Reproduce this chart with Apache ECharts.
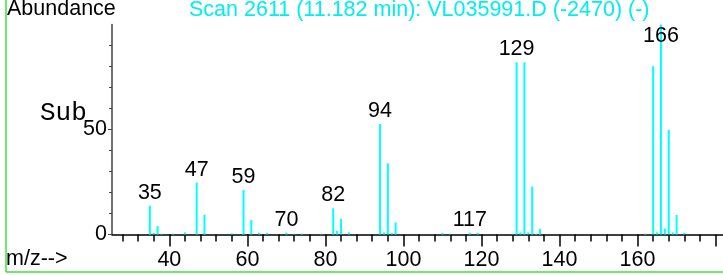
<!DOCTYPE html>
<html>
<head>
<meta charset="utf-8">
<script src="https://cdn.jsdelivr.net/npm/echarts@6/dist/echarts.min.js"></script>
<style>
  html, body { margin: 0; padding: 0; background: #fff; }
  #chart { width: 723px; height: 275px; }
</style>
</head>
<body>
<div id="chart"></div>
<script>
// m/z of each peak and its relative abundance
var mz = [35, 36, 37, 38, 41, 44, 47, 49, 56, 59, 61, 63, 65, 70, 72, 74, 79,
  82, 83, 84, 86, 94, 95, 96, 97, 98, 110, 112, 117, 119, 128, 129, 130, 131,
  132, 133, 134, 135, 162, 164, 165, 166, 167, 168, 169, 170, 172];
var abundance = [13.7, 0.8, 4, 0.4, 0.4, 1, 24.7, 9.4, 0.5, 21.2, 6.9, 0.8, 0.8, 0.9, 0.4, 0.4, 0.4,
  12.5, 1.7, 7.5, 1, 52.6, 1, 33.9, 0.8, 5.8, 0.8, 0.4, 0.9, 0.8, 0.4, 82, 1, 82,
  1, 22.8, 0.4, 2.6, 0.4, 80.2, 1, 100, 2.8, 49.8, 1, 9.3, 0.8];
var labelledPeaks = [35, 47, 59, 70, 82, 94, 117, 129, 166];

var xMajorTicks = [40, 60, 80, 100, 120, 140, 160, 180];
var xTickLabels = [40, 60, 80, 100, 120, 140, 160];
var xMinorTicks = [28, 32, 36, 44, 48, 52, 56, 64, 68, 72, 76, 84, 88, 92, 96, 104, 108, 112, 116,
  124, 128, 132, 136, 144, 148, 152, 156, 164, 168, 172, 176];
var yMajorTicks = [0, 50];
var yMinorTicks = [10, 20, 30, 40, 60, 70, 80, 90];

var titleText = 'Scan 2611 (11.182 min): VL035991.D (-2470) (-)';

var chart = echarts.init(document.getElementById('chart'));

var data = [];
for (var i = 0; i < mz.length; i++) {
  var item = { value: [mz[i], abundance[i]] };
  if (labelledPeaks.indexOf(mz[i]) >= 0) {
    item.label = { show: true };
    if (mz[i] === 166) {
      // the top peak's label is pushed down under the title
      item.label.offset = [0, 25];
    }
  }
  data.push(item);
}

var font = 'Liberation Sans, Arial, sans-serif';

var option = {
  animation: false,
  backgroundColor: '#fff',
  grid: { left: 112, right: 0, top: 24.5, bottom: 40.5 },
  xAxis: [{
    type: 'value',
    min: 25.3,
    max: 181.9,
    position: 'bottom',
    splitLine: { show: false },
    axisLine: { lineStyle: { color: '#000', width: 1.5 } },
    axisTick: { customValues: xMajorTicks, length: 12, lineStyle: { color: '#000', width: 1.5 } },
    axisLabel: { customValues: xTickLabels, margin: 15, color: '#000', fontSize: 21.5, fontFamily: font }
  }, {
    type: 'value',
    min: 25.3,
    max: 181.9,
    position: 'bottom',
    splitLine: { show: false },
    axisLine: { show: false },
    axisTick: { customValues: xMinorTicks, length: 7, lineStyle: { color: '#000', width: 1.5 } },
    axisLabel: { show: false }
  }],
  yAxis: [{
    type: 'value',
    min: 0,
    max: 100,
    splitLine: { show: false },
    axisLine: { show: true, lineStyle: { color: '#444', width: 1.5 } },
    axisTick: { show: true, customValues: yMajorTicks, length: 4, lineStyle: { color: '#444' } },
    axisLabel: { customValues: yMajorTicks, margin: 5, color: '#000', fontSize: 21.5, fontFamily: font }
  }, {
    type: 'value',
    min: 0,
    max: 100,
    position: 'left',
    splitLine: { show: false },
    axisLine: { show: false },
    axisTick: { show: true, customValues: yMinorTicks, length: 3, lineStyle: { color: '#444' } },
    axisLabel: { show: false }
  }],
  graphic: [
    { type: 'line', shape: { x1: 6, y1: 0, x2: 6, y2: 272 }, style: { stroke: '#3ee03e', lineWidth: 1.5 } },
    { type: 'line', shape: { x1: 6, y1: 272, x2: 723, y2: 272 }, style: { stroke: '#3ee03e', lineWidth: 1.5 } },
    { type: 'text', left: 7, top: -2, style: { text: 'Abundance', fill: '#000', font: '21.5px ' + font } },
    { type: 'text', left: 189, top: -1, style: { text: titleText, fill: '#00eeee', font: '21.5px ' + font } },
    { type: 'text', left: 40, top: 100, style: { text: 'Sub', fill: '#000', font: '26px Liberation Mono, Courier New, monospace' } },
    { type: 'text', left: 6, top: 248, style: { text: 'm/z-->', fill: '#000', font: '21.5px ' + font } }
  ],
  series: [{
    type: 'bar',
    xAxisIndex: 0,
    yAxisIndex: 0,
    barWidth: 2,
    itemStyle: { color: '#00ffff' },
    label: {
      position: 'top',
      distance: 2,
      color: '#000',
      fontSize: 21.5,
      fontFamily: font,
      formatter: function (p) { return p.value[0]; }
    },
    data: data
  }]
};

chart.setOption(option);
</script>
</body>
</html>
